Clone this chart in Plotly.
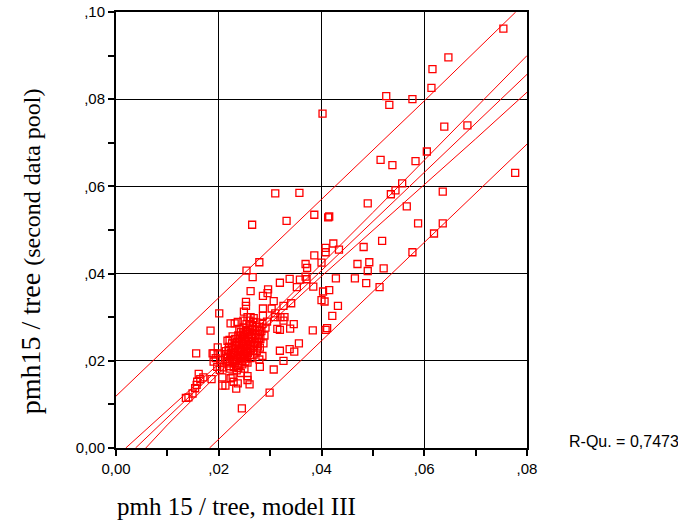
import plotly.graph_objects as go

# ---------------- data ----------------
pts_x = [0.0754, 0.0647, 0.0616, 0.0614, 0.0526, 0.0532, 0.0577, 0.0402, 0.0639, 0.0684,
         0.0605, 0.0515, 0.0538, 0.0583, 0.0777, 0.0557, 0.0544, 0.0535, 0.0636, 0.0357,
         0.0310, 0.0490, 0.0566, 0.0386, 0.0413, 0.0415, 0.0588, 0.0636, 0.0619, 0.0518,
         0.0423, 0.0408, 0.0408, 0.0434, 0.0482, 0.0577, 0.0386, 0.0400, 0.0369, 0.0372,
         0.0470, 0.0493, 0.0490, 0.0521, 0.0369, 0.0371, 0.0428, 0.0465, 0.0487, 0.0513,
         0.0384, 0.0403, 0.0415, 0.0400, 0.0406, 0.0432, 0.0265, 0.0332, 0.0279, 0.0254,
         0.0266, 0.0338, 0.0319, 0.0358, 0.0352, 0.0262, 0.0296, 0.0295, 0.0286, 0.0253,
         0.0253, 0.0307, 0.0341, 0.0326, 0.0303, 0.0249, 0.0262, 0.0286, 0.0310, 0.0309,
         0.0328, 0.0421, 0.0286, 0.0320, 0.0326, 0.0294, 0.0314, 0.0319, 0.0339, 0.0346,
         0.0383, 0.0408, 0.0411, 0.0356, 0.0338, 0.0347, 0.0319, 0.0326, 0.0307, 0.0299,
         0.0280, 0.0279, 0.0285, 0.0260, 0.0256, 0.0256, 0.0237, 0.0220, 0.0190, 0.0194,
         0.0207, 0.0213, 0.0223, 0.0229, 0.0209, 0.0202, 0.0203, 0.0215, 0.0201, 0.0184,
         0.0156, 0.0223, 0.0231, 0.0237, 0.0217, 0.0198, 0.0188, 0.0198, 0.0190, 0.0197,
         0.0161, 0.0170, 0.0164, 0.0158, 0.0157, 0.0154, 0.0149, 0.0141, 0.0136, 0.0186,
         0.0207, 0.0234, 0.0237, 0.0245, 0.0227, 0.0221]
pts_y = [0.0962, 0.0896, 0.0869, 0.0826, 0.0807, 0.0787, 0.0800, 0.0767, 0.0737, 0.0740,
         0.0680, 0.0661, 0.0649, 0.0658, 0.0631, 0.0607, 0.0591, 0.0582, 0.0588, 0.0585,
         0.0584, 0.0561, 0.0554, 0.0535, 0.0529, 0.0531, 0.0515, 0.0515, 0.0492, 0.0475,
         0.0469, 0.0459, 0.0449, 0.0455, 0.0461, 0.0449, 0.0442, 0.0425, 0.0422, 0.0413,
         0.0422, 0.0426, 0.0406, 0.0412, 0.0393, 0.0387, 0.0389, 0.0389, 0.0378, 0.0369,
         0.0370, 0.0359, 0.0362, 0.0339, 0.0336, 0.0326, 0.0512, 0.0521, 0.0426, 0.0407,
         0.0392, 0.0388, 0.0379, 0.0386, 0.0369, 0.0360, 0.0364, 0.0355, 0.0349, 0.0335,
         0.0326, 0.0337, 0.0332, 0.0326, 0.0320, 0.0313, 0.0300, 0.0303, 0.0309, 0.0300,
         0.0300, 0.0303, 0.0320, 0.0300, 0.0292, 0.0290, 0.0273, 0.0271, 0.0274, 0.0284,
         0.0270, 0.0271, 0.0275, 0.0240, 0.0227, 0.0221, 0.0223, 0.0200, 0.0180, 0.0127,
         0.0186, 0.0203, 0.0211, 0.0146, 0.0165, 0.0156, 0.0188, 0.0188, 0.0217, 0.0206,
         0.0143, 0.0143, 0.0160, 0.0152, 0.0185, 0.0179, 0.0202, 0.0198, 0.0309, 0.0269,
         0.0217, 0.0286, 0.0286, 0.0289, 0.0246, 0.0231, 0.0217, 0.0217, 0.0198, 0.0186,
         0.0170, 0.0162, 0.0158, 0.0152, 0.0145, 0.0137, 0.0125, 0.0116, 0.0115, 0.0158,
         0.0162, 0.0136, 0.0148, 0.0091, 0.0162, 0.0182]

# dense core of the point cloud (estimated)
core_x = [0.0212, 0.0214, 0.0218, 0.0220, 0.0222, 0.0224, 0.0226, 0.0228, 0.0229, 0.0231,
          0.0232, 0.0233, 0.0234, 0.0236, 0.0237, 0.0238, 0.0239, 0.0240, 0.0241, 0.0242,
          0.0243, 0.0244, 0.0245, 0.0246, 0.0247, 0.0248, 0.0249, 0.0250, 0.0251, 0.0252,
          0.0253, 0.0254, 0.0255, 0.0256, 0.0257, 0.0258, 0.0259, 0.0260, 0.0261, 0.0262,
          0.0263, 0.0264, 0.0265, 0.0266, 0.0268, 0.0269, 0.0270, 0.0271, 0.0273, 0.0274,
          0.0275, 0.0277, 0.0278, 0.0280, 0.0281, 0.0283, 0.0285, 0.0287, 0.0289, 0.0291,
          0.0235, 0.0243, 0.0229, 0.0217, 0.0227, 0.0221, 0.0240, 0.0248, 0.0256, 0.0268,
          0.0215, 0.0219, 0.0223, 0.0225, 0.0227, 0.0230, 0.0232, 0.0234, 0.0236, 0.0238,
          0.0240, 0.0241, 0.0243, 0.0244, 0.0246, 0.0247, 0.0249, 0.0250, 0.0251, 0.0253,
          0.0254, 0.0255, 0.0257, 0.0258, 0.0260, 0.0261, 0.0262, 0.0264, 0.0265, 0.0267,
          0.0267, 0.0270, 0.0272, 0.0274, 0.0276, 0.0278, 0.0280, 0.0246, 0.0252, 0.0238]
core_y = [0.0205, 0.0222, 0.0212, 0.0232, 0.0200, 0.0218, 0.0240, 0.0208, 0.0226, 0.0194,
          0.0250, 0.0214, 0.0236, 0.0204, 0.0222, 0.0258, 0.0244, 0.0190, 0.0212, 0.0230,
          0.0266, 0.0250, 0.0200, 0.0220, 0.0238, 0.0276, 0.0258, 0.0182, 0.0210, 0.0228,
          0.0246, 0.0284, 0.0266, 0.0196, 0.0218, 0.0236, 0.0254, 0.0292, 0.0272, 0.0206,
          0.0226, 0.0244, 0.0262, 0.0280, 0.0214, 0.0234, 0.0252, 0.0270, 0.0288, 0.0222,
          0.0242, 0.0260, 0.0278, 0.0230, 0.0250, 0.0268, 0.0285, 0.0240, 0.0258, 0.0276,
          0.0178, 0.0172, 0.0186, 0.0194, 0.0256, 0.0248, 0.0272, 0.0292, 0.0300, 0.0298,
          0.0215, 0.0225, 0.0209, 0.0229, 0.0197, 0.0217, 0.0233, 0.0201, 0.0243, 0.0213,
          0.0235, 0.0253, 0.0207, 0.0225, 0.0245, 0.0263, 0.0215, 0.0233, 0.0251, 0.0271,
          0.0205, 0.0223, 0.0243, 0.0261, 0.0281, 0.0213, 0.0233, 0.0253, 0.0271, 0.0289,
          0.0224, 0.0240, 0.0260, 0.0278, 0.0233, 0.0252, 0.0270, 0.0192, 0.0198, 0.0183]

# regression line and bands
fit_x = [0.0038, 0.0800]
fit_y = [0.0000, 0.0857]
ci_up_x = [0.0019, 0.0100, 0.0200, 0.0300, 0.0400, 0.0500, 0.0600, 0.0700, 0.0800]
ci_up_y = [0.0000, 0.0087, 0.0193, 0.0304, 0.0421, 0.0540, 0.0660, 0.0780, 0.0900]
ci_lo_x = [0.0058, 0.0100, 0.0200, 0.0300, 0.0400, 0.0500, 0.0600, 0.0700, 0.0800]
ci_lo_y = [0.0000, 0.0053, 0.0171, 0.0286, 0.0394, 0.0500, 0.0604, 0.0709, 0.0816]
pi_up_x = [0.0000, 0.0200, 0.0400, 0.0600, 0.0778]
pi_up_y = [0.0119, 0.0344, 0.0569, 0.0796, 0.1000]
pi_lo_x = [0.0182, 0.0400, 0.0600, 0.0800]
pi_lo_y = [0.0000, 0.0246, 0.0471, 0.0697]

x_ticks = [0.0, 0.02, 0.04, 0.06, 0.08]
x_tick_labels = ["0,00", ",02", ",04", ",06", ",08"]
y_ticks = [0.0, 0.02, 0.04, 0.06, 0.08, 0.10]
y_tick_labels = ["0,00", ",02", ",04", ",06", ",08", ",10"]
r_squared_text = "R-Qu. = 0,7473"

RED = "#ff0000"

fig = go.Figure()
for lx, ly in [(pi_up_x, pi_up_y), (ci_up_x, ci_up_y), (fit_x, fit_y),
               (ci_lo_x, ci_lo_y), (pi_lo_x, pi_lo_y)]:
    fig.add_trace(go.Scatter(x=lx, y=ly, mode="lines",
                             line=dict(color=RED, width=1), showlegend=False,
                             hoverinfo="skip"))

fig.add_trace(go.Scatter(x=pts_x + core_x, y=pts_y + core_y, mode="markers",
                         marker=dict(symbol="square-open", size=7, color=RED,
                                     line=dict(color=RED, width=1.3)),
                         showlegend=False))

axis_common = dict(showline=True, linecolor="black", linewidth=2, mirror=True,
                   showgrid=True, gridcolor="black", gridwidth=1, zeroline=False,
                   automargin=False,
                   ticks="outside", ticklen=6, tickwidth=1.5, tickcolor="black",
                   tickfont=dict(family="Liberation Sans, Arial", size=15, color="black"),
                   minor=dict(dtick=0.01, tick0=0, ticks="outside", ticklen=6,
                              tickwidth=1.5, tickcolor="black", showgrid=False))

fig.update_xaxes(range=[0, 0.08], tickmode="array", tickvals=x_ticks,
                 ticktext=x_tick_labels, **axis_common)
fig.update_yaxes(range=[0, 0.10], tickmode="array", tickvals=y_ticks,
                 ticktext=y_tick_labels, **axis_common)

fig.add_annotation(
    text='pmh15 / tree <span style="font-size:24px">(second data pool)</span>',
    xref="paper", yref="paper", x=-0.208, y=0.45, textangle=-90,
    showarrow=False, xanchor="center", yanchor="middle",
    font=dict(family="Liberation Serif, Times New Roman", size=28, color="black"))
fig.add_annotation(
    text="pmh 15 / tree, model III",
    xref="paper", yref="paper", x=-0.003, y=-0.135, showarrow=False,
    xanchor="left", yanchor="middle",
    font=dict(family="Liberation Serif, Times New Roman", size=25, color="black"))
fig.add_annotation(
    text=r_squared_text, xref="paper", yref="paper", x=1.097, y=0.015,
    showarrow=False, xanchor="left", yanchor="middle",
    font=dict(family="Liberation Sans, Arial", size=16, color="black"))

fig.update_layout(width=678, height=525, margin=dict(l=116, r=151, t=12, b=77),
                  plot_bgcolor="white", paper_bgcolor="white")

fig.write_html("out.html", config={"displayModeBar": False},
               post_script="document.body.style.margin='0';"
                           "document.body.style.overflow='hidden';")
